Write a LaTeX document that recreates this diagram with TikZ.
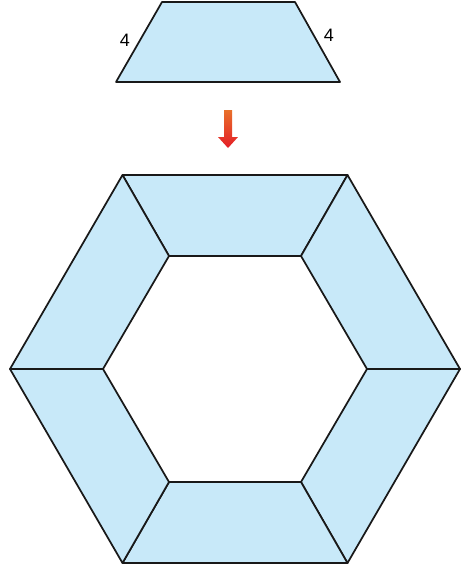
\documentclass[tikz,border=0pt]{standalone}
\usepackage{fontspec}
\setmainfont{Liberation Sans}
\definecolor{pieceblue}{RGB}{200,233,249}
\definecolor{arrowtop}{RGB}{232,112,42}
\definecolor{arrowbot}{RGB}{228,30,40}
\begin{document}
\begin{tikzpicture}[x=0.75pt,y=-0.75pt,
  piece/.style={fill=pieceblue,draw=black!90,line width=1.3pt,line join=round},
  lbl/.style={font=\fontsize{13.5}{15}\selectfont,inner sep=0pt}]
\useasboundingbox (0,0) rectangle (462,571);
% top trapezoid
\path[piece] (162,2) -- (295,2) -- (340,82) -- (116,82) -- cycle;
\node[lbl] (la) at (125,40) {4};
\node[lbl] (lb) at (329,35) {4};
% arrow
\shade[top color=arrowtop,bottom color=arrowbot]
  (224,110) -- (232,110) -- (232,137) -- (238,137) -- (228,148) -- (218,137) -- (224,137) -- cycle;
% hexagon ring
\coordinate (o0) at (122.5,175);
\coordinate (o1) at (347.5,175);
\coordinate (o2) at (460,369);
\coordinate (o3) at (347.5,563);
\coordinate (o4) at (122.5,563);
\coordinate (o5) at (10,369);
\coordinate (i0) at (169,256);
\coordinate (i1) at (301,256);
\coordinate (i2) at (367,369);
\coordinate (i3) at (301,482);
\coordinate (i4) at (169,482);
\coordinate (i5) at (103,369);
\path[piece] (o0) -- (o1) -- (i1) -- (i0) -- cycle;
\path[piece] (o1) -- (o2) -- (i2) -- (i1) -- cycle;
\path[piece] (o2) -- (o3) -- (i3) -- (i2) -- cycle;
\path[piece] (o3) -- (o4) -- (i4) -- (i3) -- cycle;
\path[piece] (o4) -- (o5) -- (i5) -- (i4) -- cycle;
\path[piece] (o5) -- (o0) -- (i0) -- (i5) -- cycle;
\end{tikzpicture}
\end{document}
